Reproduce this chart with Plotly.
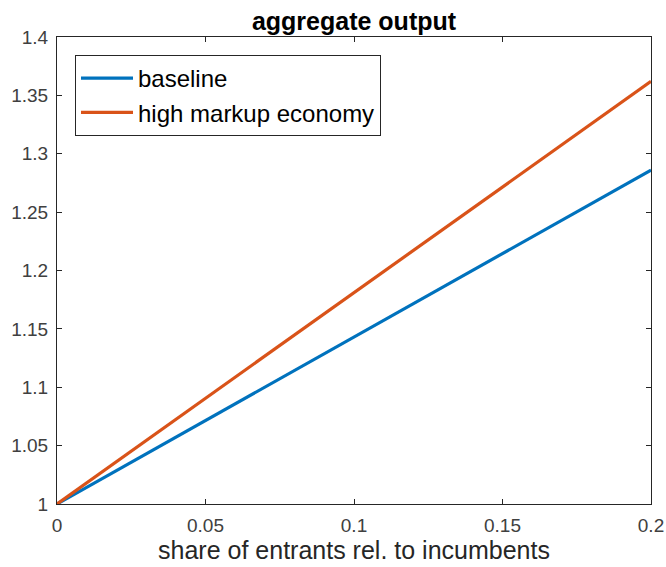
import plotly.graph_objects as go

x_share = [0.0, 0.05, 0.10, 0.15, 0.20]
baseline = [1.0, 1.0715, 1.143, 1.2145, 1.286]
high_markup = [1.0, 1.0905, 1.181, 1.2715, 1.362]
x_ticks = [0, 0.05, 0.1, 0.15, 0.2]
x_tick_text = ["0", "0.05", "0.1", "0.15", "0.2"]
y_ticks = [1, 1.05, 1.1, 1.15, 1.2, 1.25, 1.3, 1.35, 1.4]
y_tick_text = ["1", "1.05", "1.1", "1.15", "1.2", "1.25", "1.3", "1.35", "1.4"]

FONT = "Liberation Sans, Arial"
W, H = 666, 567

fig = go.Figure()
fig.add_trace(go.Scatter(x=x_share, y=baseline, mode="lines", name="baseline",
                         line=dict(color="#0072BD", width=3.2)))
fig.add_trace(go.Scatter(x=x_share, y=high_markup, mode="lines", name="high markup economy",
                         line=dict(color="#D95319", width=3.2)))

axis_common = dict(showgrid=False, zeroline=False, showline=True, linecolor="#262626",
                   linewidth=1, mirror="ticks", ticks="inside", ticklen=5,
                   tickcolor="#262626", automargin=False,
                   tickfont=dict(family=FONT, size=19, color="#404040"))

fig.update_xaxes(range=[0, 0.2], tickvals=x_ticks, ticktext=x_tick_text,
                 ticklabelstandoff=4,
                 title=dict(text="share of entrants rel. to incumbents",
                            font=dict(family=FONT, size=25, color="#262626"),
                            standoff=2),
                 **axis_common)
fig.update_yaxes(range=[1, 1.4], tickvals=y_ticks, ticktext=y_tick_text,
                 ticklabelstandoff=4, **axis_common)

fig.update_layout(
    width=W, height=H,
    margin=dict(l=57, r=15, t=37, b=63),
    plot_bgcolor="white", paper_bgcolor="white",
    title=dict(text="<b>aggregate output</b>", x=354 / W, xanchor="center", y=1 - 21 / H, yanchor="middle",
               font=dict(family=FONT, size=25, color="#000000")),
    legend=dict(x=0.0303, y=0.9615, xanchor="left", yanchor="top",
                bgcolor="white", bordercolor="#262626", borderwidth=1,
                font=dict(family=FONT, size=24, color="#000000"),
                tracegroupgap=0, itemwidth=52),
    showlegend=True,
)

fig.write_html("out.html", config={"displayModeBar": False},
               post_script="document.body.style.margin='0';document.body.style.overflow='hidden';")
